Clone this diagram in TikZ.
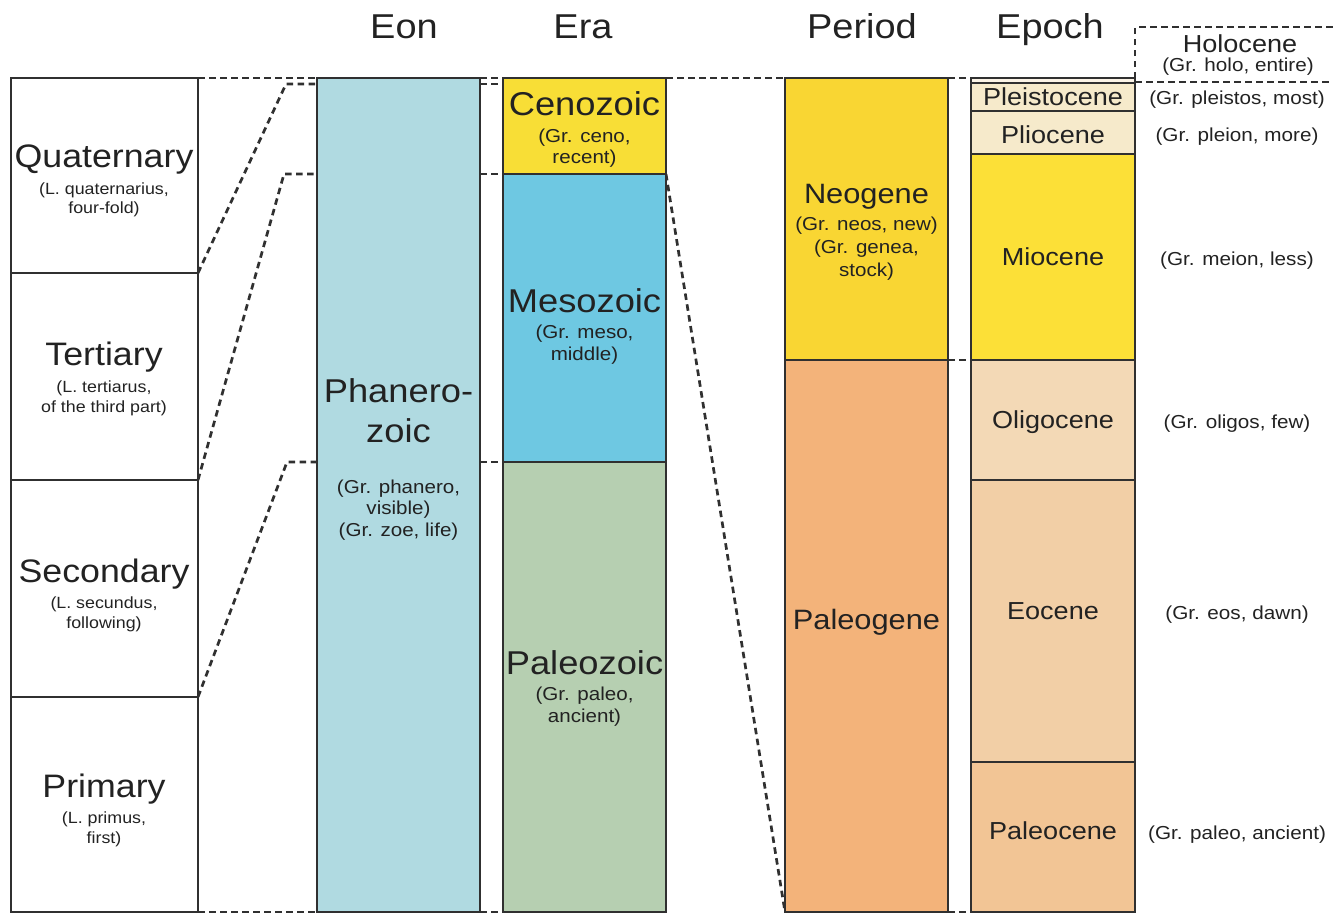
\documentclass[tikz,border=0pt]{standalone}
\usepackage{fontspec}
\setmainfont{Liberation Sans}[FakeStretch=1.1]
\usetikzlibrary{backgrounds}
\definecolor{bcol}{HTML}{303030}
\definecolor{tcol}{HTML}{222222}
\definecolor{eonc}{HTML}{B0DAE1}
\definecolor{cenoc}{HTML}{F8DE36}
\definecolor{mesoc}{HTML}{6EC8E2}
\definecolor{palzc}{HTML}{B6CFB1}
\definecolor{neogc}{HTML}{F9D633}
\definecolor{palgc}{HTML}{F3B37A}
\definecolor{pleic}{HTML}{F6EACB}
\definecolor{mioc}{HTML}{FCE037}
\definecolor{oligc}{HTML}{F3D9B6}
\definecolor{eocc}{HTML}{F2CFA6}
\definecolor{palcc}{HTML}{F2C595}
\definecolor{holoc}{HTML}{FBF3E6}
\newcommand\fsz[1]{\fontsize{#1}{#1}\selectfont}
\begin{document}
\begin{tikzpicture}[x=1pt,y=-1pt,
  box/.style={draw=bcol, line width=2.7pt, inner sep=0pt, outer sep=0pt, anchor=north west},
  conn/.style={draw=bcol, line width=2.7pt, dash pattern=on 6.5pt off 4.5pt},
  txt/.style={text=tcol, inner sep=0pt, anchor=base},
  ttl/.style={txt, font=\fsz{34.5}},
  lmain/.style={txt, font=\fsz{32.5}},
  lsub/.style={txt, font=\fsz{16.2}},
  bmain/.style={txt, font=\fsz{33}},
  bsub/.style={txt, font=\fsz{18.7}},
  pmain/.style={txt, font=\fsz{28}},
  epo/.style={txt, font=\fsz{24.6}},
  rlab/.style={txt, font=\fsz{18.8}}]
\useasboundingbox (0,0) rectangle (1333,914);

% titles
\node[ttl] (tEon) at (404,38) {Eon};
\node[ttl] (tEra) at (583,38) {Era};
\node[ttl] (tPer) at (862,38) {Period};
\node[ttl] (tEpo) at (1050,38) {Epoch};

% left column
\node[box, minimum width=187pt, minimum height=195pt] (quat) at (11,78) {};
\node[box, minimum width=187pt, minimum height=207pt] (tert) at (11,273) {};
\node[box, minimum width=187pt, minimum height=217pt] (seco) at (11,480) {};
\node[box, minimum width=187pt, minimum height=215pt] (prim) at (11,697) {};

% eon
\node[box, fill=eonc, minimum width=163pt, minimum height=834pt] (eon) at (317,78) {};

% eras
\node[box, fill=cenoc, minimum width=163pt, minimum height=96pt] (ceno) at (503,78) {};
\node[box, fill=mesoc, minimum width=163pt, minimum height=288pt] (meso) at (503,174) {};
\node[box, fill=palzc, minimum width=163pt, minimum height=450pt] (palz) at (503,462) {};

% periods
\node[box, fill=neogc, minimum width=163pt, minimum height=282pt] (neog) at (785,78) {};
\node[box, fill=palgc, minimum width=163pt, minimum height=552pt] (palg) at (785,360) {};

% epochs
\node[box, fill=holoc, minimum width=164pt, minimum height=5pt] (holo) at (971,78) {};
\node[box, fill=pleic, minimum width=164pt, minimum height=28pt] (plei) at (971,83) {};
\node[box, fill=pleic, minimum width=164pt, minimum height=43pt] (plio) at (971,111) {};
\node[box, fill=mioc, minimum width=164pt, minimum height=206pt] (mioc) at (971,154) {};
\node[box, fill=oligc, minimum width=164pt, minimum height=120pt] (olig) at (971,360) {};
\node[box, fill=eocc, minimum width=164pt, minimum height=282pt] (eoc) at (971,480) {};
\node[box, fill=palcc, minimum width=164pt, minimum height=150pt] (palc) at (971,762) {};

% connectors
\coordinate (q1) at (286,84);
\coordinate (t1) at (284,174);
\coordinate (s1) at (287,462);
\coordinate (h1) at (1135,27);
\coordinate (h2) at (1333,27);
\coordinate (h3) at (1135,82);
\coordinate (h4) at (1333,82);
\begin{pgfonlayer}{background}
\draw[conn] (quat.north east) -- (eon.north west);
\draw[conn] (eon.north east) -- (ceno.north west);
\draw[conn] (ceno.north east) -- (neog.north west);
\draw[conn] (neog.north east) -- (holo.north west);
\draw[conn] (quat.south east) -- (q1) -- (q1 -| eon.west);
\draw[conn] (q1 -| eon.east) -- (q1 -| ceno.west);
\draw[conn] (tert.south east) -- (t1) -- (t1 -| eon.west);
\draw[conn] (t1 -| eon.east) -- (meso.north west);
\draw[conn] (seco.south east) -- (s1) -- (s1 -| eon.west);
\draw[conn] (s1 -| eon.east) -- (palz.north west);
\draw[conn] (prim.south east) -- (eon.south west);
\draw[conn] (eon.south east) -- (palz.south west);
\draw[conn] (meso.north east) -- (palg.south west);
\draw[conn] (neog.south east) -- (olig.north west);
\draw[conn] (palg.south east) -- (palc.south west);
\draw[conn] (holo.north east) -- (h1) -- (h2);
\draw[conn] (h3) -- (h4);
\end{pgfonlayer}

% left texts
\node[lmain] (lq1) at (104,167) {Quaternary};
\node[lsub] (lq2) at (104,194) {(L. quaternarius,};
\node[lsub] (lq3) at (104,213) {four-fold)};
\node[lmain] (lt1) at (104,365) {Tertiary};
\node[lsub] (lt2) at (104,392) {(L. tertiarus,};
\node[lsub] (lt3) at (104,412) {of the third part)};
\node[lmain] (ls1) at (104,582) {Secondary};
\node[lsub] (ls2) at (104,608) {(L. secundus,};
\node[lsub] (ls3) at (104,628) {following)};
\node[lmain] (lp1) at (104,797) {Primary};
\node[lsub] (lp2) at (104,823) {(L. primus,};
\node[lsub] (lp3) at (104,843) {first)};

% eon texts
\node[bmain] (e1) at (398.5,402) {Phanero-};
\node[bmain] (e2) at (398.5,442) {zoic};
\node[bsub] (e3) at (398.5,493) {(Gr. phanero,};
\node[bsub] (e4) at (398.5,514) {visible)};
\node[bsub] (e5) at (398.5,536) {(Gr. zoe, life)};

% era texts
\node[bmain] (c1) at (584.5,115) {Cenozoic};
\node[bsub] (c2) at (584.5,142) {(Gr. ceno,};
\node[bsub] (c3) at (584.5,163) {recent)};
\node[bmain] (m1) at (584.5,312) {Mesozoic};
\node[bsub] (m2) at (584.5,338) {(Gr. meso,};
\node[bsub] (m3) at (584.5,360) {middle)};
\node[bmain] (p1) at (584.5,674) {Paleozoic};
\node[bsub] (p2) at (584.5,700) {(Gr. paleo,};
\node[bsub] (p3) at (584.5,722) {ancient)};

% period texts
\node[pmain] (n1) at (866.5,203) {Neogene};
\node[bsub] (n2) at (866.5,230) {(Gr. neos, new)};
\node[bsub] (n3) at (866.5,253) {(Gr. genea,};
\node[bsub] (n4) at (866.5,276) {stock)};
\node[pmain] (g1) at (866.5,629) {Paleogene};

% epoch texts
\node[epo] (ep1) at (1053,105) {Pleistocene};
\node[epo] (ep2) at (1053,143) {Pliocene};
\node[epo] (ep3) at (1053,265) {Miocene};
\node[epo] (ep4) at (1053,428) {Oligocene};
\node[epo] (ep5) at (1053,619) {Eocene};
\node[epo] (ep6) at (1053,839) {Paleocene};

% right labels
\node[epo] (ho1) at (1240,52) {Holocene};
\node[rlab] (ho2) at (1238,71) {(Gr. holo, entire)};
\node[rlab] (r1) at (1237,104) {(Gr. pleistos, most)};
\node[rlab] (r2) at (1237,141) {(Gr. pleion, more)};
\node[rlab] (r3) at (1237,265) {(Gr. meion, less)};
\node[rlab] (r4) at (1237,428) {(Gr. oligos, few)};
\node[rlab] (r5) at (1237,619) {(Gr. eos, dawn)};
\node[rlab] (r6) at (1237,839) {(Gr. paleo, ancient)};
\end{tikzpicture}
\end{document}
